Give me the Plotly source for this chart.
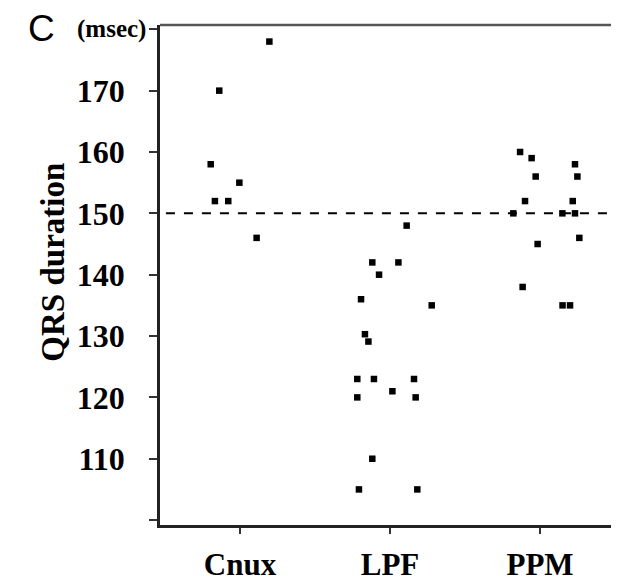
import plotly.graph_objects as go

categories = ["Cnux", "LPF", "PPM"]

cnux_values = [178, 170, 158, 155, 152, 152, 146]
cnux_jitter = [0.196, -0.138, -0.195, -0.004, -0.167, -0.078, 0.111]

lpf_values = [148, 142, 142, 140, 136, 135, 130.3, 129.1, 123, 123, 123, 120, 121, 120, 110, 105, 105]
lpf_jitter = [0.111, -0.118, 0.056, -0.073, -0.193, 0.278, -0.167, -0.144, -0.218, -0.107, 0.16,
              -0.218, 0.016, 0.171, -0.118, -0.207, 0.182]

ppm_values = [160, 159, 156, 152, 150, 145, 138, 158, 156, 152, 150, 150, 146, 135, 135]
ppm_jitter = [-0.133, -0.056, -0.029, -0.1, -0.178, -0.016, -0.116, 0.233, 0.249, 0.218, 0.149,
              0.233, 0.262, 0.15, 0.2]

reference_value = 150

y_tickvals = [100, 110, 120, 130, 140, 150, 160, 170, 180]
y_ticktext = ["", "110", "120", "130", "140", "150", "160", "170", ""]

groups = [(cnux_values, cnux_jitter), (lpf_values, lpf_jitter), (ppm_values, ppm_jitter)]

fig = go.Figure()
for i, (vals, jit) in enumerate(groups):
    fig.add_trace(go.Scatter(
        x=[i + j for j in jit], y=vals, mode="markers",
        marker=dict(symbol="square", size=6.5, color="black"),
        showlegend=False, name=categories[i]))

serif = "Liberation Serif"

fig.update_layout(
    width=611, height=577,
    margin=dict(l=152, r=2, t=17, b=60),
    paper_bgcolor="white", plot_bgcolor="white",
    xaxis=dict(
        range=[-0.533, 2.513], tickvals=[0, 1, 2], ticktext=categories,
        showgrid=False, zeroline=False, automargin=False,
        showline=True, linecolor="#222", linewidth=2.5,
        ticks="outside", ticklen=6, tickwidth=1.5, tickcolor="#333",
        tickfont=dict(family=serif, size=31, color="black", weight="bold"),
        ticklabelstandoff=4,
    ),
    yaxis=dict(
        range=[99.2, 180.7], tickvals=y_tickvals, ticktext=y_ticktext,
        showgrid=False, zeroline=False, automargin=False,
        showline=True, linecolor="#222", linewidth=2.5,
        ticks="outside", ticklen=8, tickwidth=2, tickcolor="#333",
        tickfont=dict(family=serif, size=32, color="black", weight="bold"),
        ticklabelstandoff=18,
    ),
)

# y axis title
fig.add_annotation(text="QRS duration", xref="paper", yref="paper", x=-0.236, y=0.525,
                   xanchor="center", yanchor="middle", textangle=-90, showarrow=False,
                   font=dict(family=serif, size=33, color="black", weight="bold"))

# top and right frame lines (thinner, grey)
fig.add_shape(type="line", xref="paper", yref="paper", x0=0, x1=1, y0=1, y1=1,
              line=dict(color="#555", width=2.5))
fig.add_shape(type="line", xref="paper", yref="paper", x0=1, x1=1, y0=0, y1=1,
              line=dict(color="#777", width=1.5))

# dashed reference line
fig.add_shape(type="line", xref="paper", yref="y", x0=0.013, x1=0.98,
              y0=reference_value, y1=reference_value,
              line=dict(color="black", width=2, dash="dash"))

# unit label at the top tick
fig.add_annotation(text="(msec)", xref="paper", yref="y", x=-0.026, y=180,
                   xanchor="right", yanchor="middle", showarrow=False,
                   font=dict(family=serif, size=25, color="black", weight="bold"))

# panel letter
fig.add_annotation(text="C", xref="paper", yref="paper", x=-0.225, y=0.994,
                   xanchor="right", yanchor="middle", showarrow=False,
                   font=dict(family="Liberation Sans", size=37, color="black"))

fig.write_html("out.html")
